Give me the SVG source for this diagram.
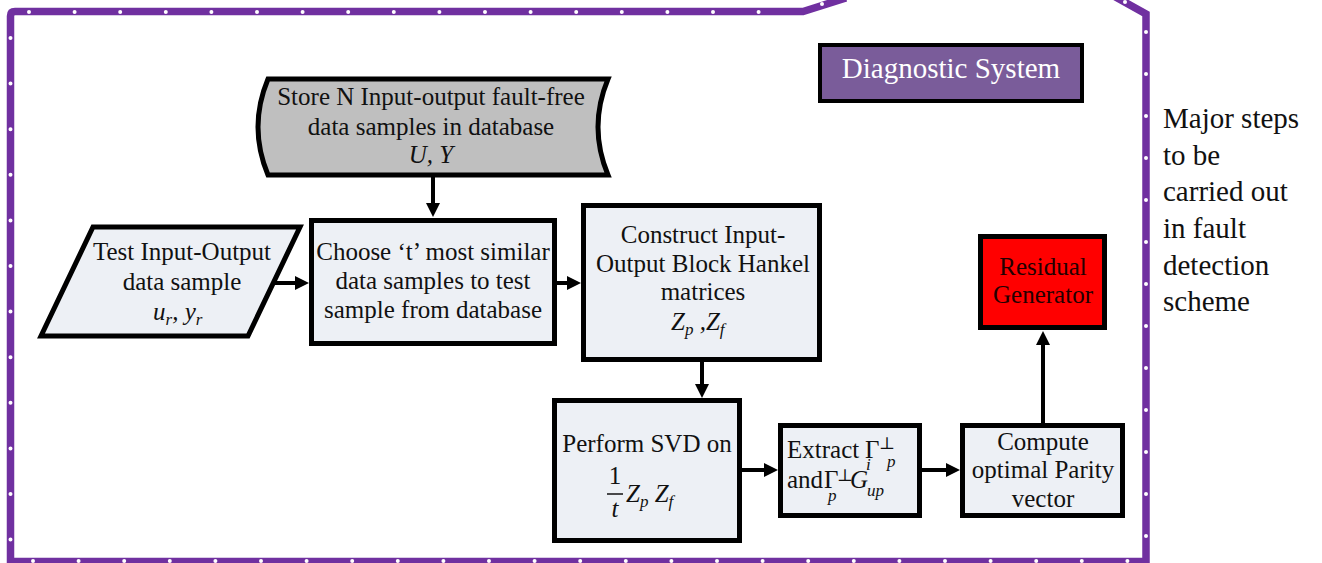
<svg xmlns="http://www.w3.org/2000/svg" width="1322" height="563" viewBox="0 0 1322 563">
<style>
text{font-family:"Liberation Serif","Times New Roman","DejaVu Serif",serif;font-size:25px;fill:#111}
.c{text-anchor:middle}
.m{font-style:italic}
.s{font-size:17px}
.box{fill:#edf0f5;stroke:#000;stroke-width:5}
.dots{fill:none;stroke:#fff;stroke-width:4;stroke-linecap:round}
.conn{fill:none;stroke:#000;stroke-width:4}
</style>
<defs>
<marker id="ah" viewBox="0 0 14 14" refX="8" refY="7" markerWidth="14" markerHeight="14" markerUnits="userSpaceOnUse" orient="auto">
<path d="M0,0 L14,7 L0,14 z" fill="#000"/>
</marker>
</defs>
<rect width="1322" height="563" fill="#fff"/>
<g id="border">
<path d="M846,-2 L803,11.5 L15,11.5 Q10.5,11.5 10.5,16 L10.5,561.5 L1146,561.5 L1146,14 L1112,-5" fill="none" stroke="#7030a0" stroke-width="7.5" stroke-linejoin="miter"/>
<path class="dots" d="M29,12 L800,12" stroke-dasharray="0 45.6"/>
<path class="dots" d="M10.5,38 L10.5,545" stroke-dasharray="0 45.6"/>
<path class="dots" d="M33,561 L1140,561" stroke-dasharray="0 45.6"/>
<path class="dots" d="M1146,32 L1146,540" stroke-dasharray="0 42"/>
<circle cx="822" cy="4" r="2" fill="#fff"/>
<circle cx="1125" cy="2" r="2" fill="#fff"/>
</g>
<g id="diagnostic">
<rect x="820" y="45" width="262" height="56" fill="#7a5c9a" stroke="#000" stroke-width="4"/>
<text class="c" x="951" y="78" style="fill:#fff;font-size:29px">Diagnostic System</text>
</g>
<g id="store">
<path d="M268,79 L608,79 Q588,127 608,175 L268,175 Q248,127 268,79 Z" fill="#bfbfbf" stroke="#000" stroke-width="5"/>
<text class="c" x="431" y="105">Store N Input-output fault-free</text>
<text class="c" x="431" y="135">data samples in database</text>
<text class="c m" x="431" y="163">U, Y</text>
</g>
<g id="test">
<polygon class="box" points="93,227 300,227 248,336 41,336"/>
<text class="c" x="182" y="260">Test Input-Output</text>
<text class="c" x="182" y="290">data sample</text>
<text class="m" x="153" y="320">u<tspan class="s" dy="5">r</tspan><tspan dy="-5">, y</tspan><tspan class="s" dy="5">r</tspan></text>
</g>
<g id="choose">
<rect class="box" x="311.5" y="220.5" width="243" height="123"/>
<text class="c" x="433" y="260">Choose ‘t’ most similar</text>
<text class="c" x="433" y="289">data samples to test</text>
<text class="c" x="433" y="318">sample from database</text>
</g>
<g id="construct">
<rect class="box" x="583.5" y="205.5" width="236" height="154"/>
<text class="c" x="703" y="243">Construct Input-</text>
<text class="c" x="703" y="272">Output Block Hankel</text>
<text class="c" x="703" y="300">matrices</text>
<text class="m" x="671" y="330">Z<tspan class="s" dy="5">p</tspan><tspan dy="-5"> ,Z</tspan><tspan class="s" dy="5">f</tspan></text>
</g>
<g id="svd">
<rect class="box" x="554.5" y="400.5" width="185" height="140"/>
<text class="c" x="647" y="452">Perform SVD on</text>
<text class="c" x="615" y="484">1</text>
<line x1="607" y1="494" x2="623" y2="494" stroke="#111" stroke-width="1.5"/>
<text class="c m" x="615" y="517">t</text>
<text class="m" x="626" y="502">Z<tspan class="s" dy="5">p</tspan><tspan dy="-5"> Z</tspan><tspan class="s" dy="5">f</tspan></text>
</g>
<g id="extract">
<rect class="box" x="780.5" y="425.5" width="139" height="90"/>
<text x="787" y="458">Extract</text>
<text x="865" y="458">Γ</text>
<text class="s" x="879" y="449">⊥</text>
<text class="s m" x="887" y="467">p</text>
<text x="787" y="488">and</text>
<text x="824" y="488">Γ</text>
<text class="s" x="837" y="481">⊥</text>
<text class="s m" x="828" y="501">p</text>
<text class="m" x="850" y="488">G</text>
<text class="s m" x="866" y="470">i</text>
<text class="s m" x="867" y="496">up</text>
</g>
<g id="compute">
<rect class="box" x="962.5" y="425.5" width="160" height="90"/>
<text class="c" x="1043" y="450">Compute</text>
<text class="c" x="1043" y="478">optimal Parity</text>
<text class="c" x="1043" y="507">vector</text>
</g>
<g id="residual">
<rect x="980.5" y="236.5" width="124" height="91" fill="#ff0000" stroke="#000" stroke-width="5"/>
<text class="c" x="1043" y="275" style="fill:#200">Residual</text>
<text class="c" x="1043" y="303" style="fill:#200">Generator</text>
</g>
<g id="note">
<text x="1163" y="128" style="font-size:29px">Major steps</text>
<text x="1163" y="165" style="font-size:29px">to be</text>
<text x="1163" y="201" style="font-size:29px">carried out</text>
<text x="1163" y="238" style="font-size:29px">in fault</text>
<text x="1163" y="275" style="font-size:29px">detection</text>
<text x="1163" y="311" style="font-size:29px">scheme</text>
</g>
<g id="connectors">
<path class="conn" d="M433,177 L433,211" marker-end="url(#ah)"/>
<path class="conn" d="M274,283 L303,283" marker-end="url(#ah)"/>
<path class="conn" d="M557,283 L575,283" marker-end="url(#ah)"/>
<path class="conn" d="M702,362 L702,392" marker-end="url(#ah)"/>
<path class="conn" d="M742,470 L772,470" marker-end="url(#ah)"/>
<path class="conn" d="M922,470 L954,470" marker-end="url(#ah)"/>
<path class="conn" d="M1043,423 L1043,337" marker-end="url(#ah)"/>
</g>
</svg>
